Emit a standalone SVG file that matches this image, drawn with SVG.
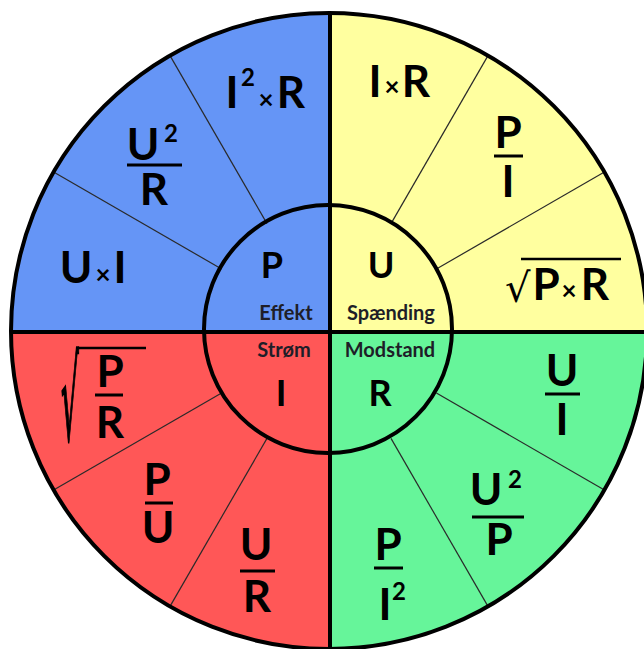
<svg xmlns="http://www.w3.org/2000/svg" width="644" height="649" viewBox="0 0 644 649">
<style>
.q{stroke:none}
.div{stroke:#2a2a2a;stroke-width:1.2;fill:none}
.thick{stroke:#000;stroke-width:4;fill:none}
.bar{stroke:#000;stroke-width:3}
.big{font-family:Lato,"Open Sans","Liberation Sans",sans-serif;font-weight:bold;font-size:44px;fill:#000;text-anchor:middle}
.sup{font-size:24px}
.x{font-size:26px}
.mid{font-family:Lato,"Open Sans","Liberation Sans",sans-serif;font-weight:bold;font-size:36px;fill:#000;text-anchor:middle}
.lbl{font-family:Lato,"Open Sans","Liberation Sans",sans-serif;font-weight:bold;font-size:20px;fill:#1e1e28;text-anchor:middle}
.rad{font-family:"DejaVu Sans",sans-serif;font-weight:normal;fill:#000}
</style>
<rect width="644" height="649" fill="#fff"/>
<g id="quadrants">
<path class="q" fill="#6595f6" d="M329,331 L11,331 A318,318 0 0 1 329,13 Z"/>
<path class="q" fill="#ffff9f" d="M329,331 L329,13 A318,318 0 0 1 647,331 Z"/>
<path class="q" fill="#66f59a" d="M329,331 L647,331 A318,318 0 0 1 329,649 Z"/>
<path class="q" fill="#ff5757" d="M329,331 L329,649 A318,318 0 0 1 11,331 Z"/>
</g>
<g id="connectors">
<line class="div" x1="267" y1="223.6" x2="170" y2="55.6"/>
<line class="div" x1="221.6" y1="269" x2="53.6" y2="172"/>
<line class="div" x1="391" y1="223.6" x2="488" y2="55.6"/>
<line class="div" x1="436.4" y1="269" x2="604.4" y2="172"/>
<line class="div" x1="436.4" y1="393" x2="604.4" y2="490"/>
<line class="div" x1="391" y1="438.4" x2="488" y2="606.4"/>
<line class="div" x1="267" y1="438.4" x2="170" y2="606.4"/>
<line class="div" x1="221.6" y1="393" x2="53.6" y2="490"/>
<line class="thick" x1="330" y1="13" x2="330" y2="649"/>
<line class="thick" x1="11" y1="332" x2="647" y2="332"/>
<circle class="thick" cx="328" cy="329" r="124"/>
<circle class="thick" cx="329" cy="331" r="318"/>
</g>
<g id="center-P"><text class="mid" x="272" y="278">P</text><text class="lbl" x="286" y="320">Effekt</text></g>
<g id="center-U"><text class="mid" x="381" y="278">U</text><text class="lbl" x="391" y="320">Spænding</text></g>
<g id="center-I"><text class="lbl" x="284" y="357">Strøm</text><text class="mid" x="281" y="406">I</text></g>
<g id="center-R"><text class="lbl" x="390" y="357">Modstand</text><text class="mid" x="380" y="406">R</text></g>
<g id="f-I2R"><text class="big"><tspan x="232" y="108">I</tspan><tspan class="sup" x="248" y="86">2</tspan><tspan class="x" x="266" y="109">×</tspan><tspan x="291" y="108">R</tspan></text></g>
<g id="f-U2R"><text class="big"><tspan x="143" y="160">U</tspan><tspan class="sup" x="171" y="142" font-size="27">2</tspan><tspan x="154" y="205">R</tspan></text><line class="bar" x1="127" y1="165" x2="182" y2="165"/></g>
<g id="f-UI"><text class="big"><tspan x="76" y="283">U</tspan><tspan class="x" x="103" y="284">×</tspan><tspan x="120" y="283">I</tspan></text></g>
<g id="f-IR"><text class="big"><tspan x="375" y="97">I</tspan><tspan class="x" x="392" y="96">×</tspan><tspan x="416" y="97">R</tspan></text></g>
<g id="f-PI"><text class="big"><tspan x="508" y="148">P</tspan><tspan x="508" y="197">I</tspan></text><line class="bar" x1="494" y1="156" x2="523" y2="156"/></g>
<g id="f-sqrtPR"><text class="rad" x="505" y="302" font-size="40">√</text><line stroke="#000" stroke-width="2.5" x1="521" y1="259" x2="621" y2="259"/><text class="big"><tspan x="546" y="300">P</tspan><tspan class="x" x="569" y="300">×</tspan><tspan x="595" y="300">R</tspan></text></g>
<g id="f-sqrtPoverR"><text class="rad" font-size="40" stroke="#000" stroke-width="0.9" transform="translate(61,440) scale(0.7,2.85)">√</text><line stroke="#000" stroke-width="2.5" x1="78" y1="348" x2="146" y2="348"/><text class="big"><tspan x="110" y="387">P</tspan><tspan x="110" y="438">R</tspan></text><line class="bar" x1="95" y1="395" x2="123" y2="395"/></g>
<g id="f-PU"><text class="big"><tspan x="157" y="495">P</tspan><tspan x="158" y="543">U</tspan></text><line class="bar" x1="145" y1="503" x2="173" y2="503"/></g>
<g id="f-UR"><text class="big"><tspan x="256" y="560">U</tspan><tspan x="257" y="612">R</tspan></text><line class="bar" x1="240" y1="571" x2="275" y2="571"/></g>
<g id="f-PI2"><text class="big"><tspan x="388" y="560">P</tspan><tspan x="385" y="620">I</tspan><tspan class="sup" x="399" y="600">2</tspan></text><line class="bar" x1="374" y1="568" x2="403" y2="568"/></g>
<g id="f-UI2"><text class="big"><tspan x="562" y="386">U</tspan><tspan x="562" y="435">I</tspan></text><line class="bar" x1="545" y1="394" x2="580" y2="394"/></g>
<g id="f-U2P"><text class="big"><tspan x="486" y="505">U</tspan><tspan class="sup" x="515" y="488">2</tspan><tspan x="499" y="555">P</tspan></text><line class="bar" x1="472" y1="517" x2="524" y2="517"/></g>
</svg>
